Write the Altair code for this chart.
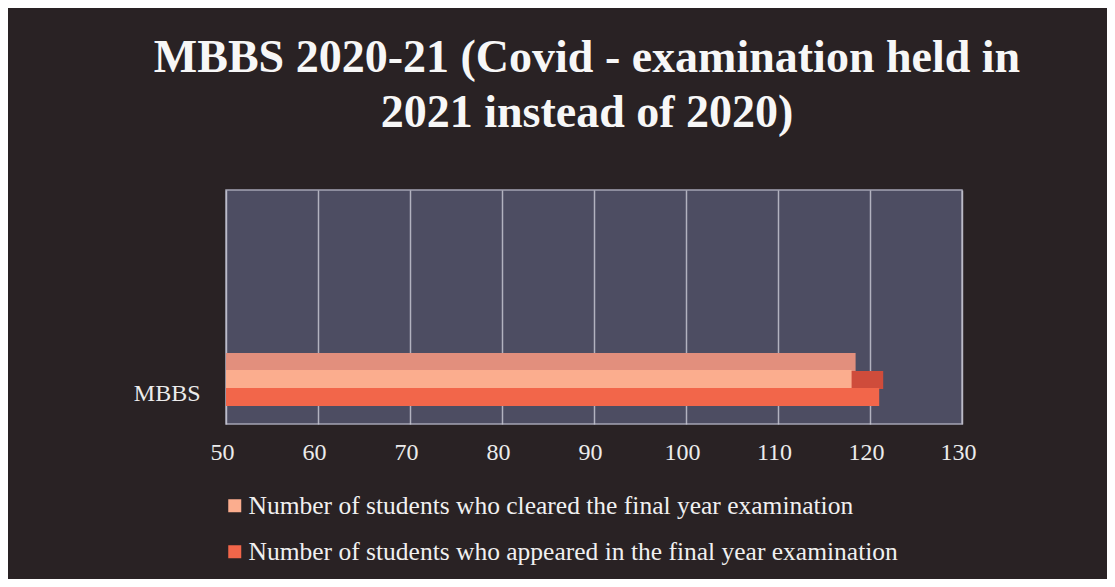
import altair as alt
import pandas as pd

categories = ["MBBS"]
series = [
    "Number of students who cleared the final year examination",
    "Number of students who  appeared in the final year examination",
]
values = [118, 121]
front_colors = ["#fbad8e", "#f2664a"]
top_colors = ["#e28f7d", "#cf4c3b"]
x_ticks = [50, 60, 70, 80, 90, 100, 110, 120, 130]
x_min, x_max = 50, 130

df = pd.DataFrame({
    "category": [categories[0]] * len(series),
    "series": series,
    "value": values,
})

FONT = "Liberation Serif"

x_enc = alt.X(
    "value:Q",
    scale=alt.Scale(domain=[x_min, x_max], zero=False, nice=False),
    axis=alt.Axis(
        values=x_ticks, title=None, domain=False, ticks=False,
        labelFont=FONT, labelFontSize=24, labelColor="#ececec",
        labelPadding=16, labelFlush=False, labelOffset=-4, grid=True,
        gridColor="#c4c4d0", gridWidth=1.5, gridOpacity=0.85,
    ),
)
y_enc = alt.Y(
    "category:N",
    scale=alt.Scale(paddingInner=0.636, paddingOuter=1, align=0.909),
    axis=alt.Axis(
        title=None, domain=False, ticks=False, labelFont=FONT,
        labelFontSize=24, labelColor="#ececec", labelPadding=26,
        labelOffset=6,
    ),
)

top_faces = alt.Chart(df).mark_bar(xOffset=4).encode(
    x=x_enc,
    x2=alt.datum(x_min),
    y=y_enc,
    yOffset=alt.YOffset("series:N", sort=series,
                        scale=alt.Scale(domain=series, range=[-17, 19],
                                        paddingInner=0, paddingOuter=0)),
    color=alt.Color("series:N", sort=series,
                    scale=alt.Scale(domain=series, range=top_colors), legend=None),
)

front_faces = alt.Chart(df).mark_bar().encode(
    x=x_enc,
    x2=alt.datum(x_min),
    y=y_enc,
    yOffset=alt.YOffset("series:N", sort=series,
                        scale=alt.Scale(domain=series, paddingInner=0, paddingOuter=0)),
    color=alt.Color(
        "series:N", sort=series,
        scale=alt.Scale(domain=series, range=front_colors),
        legend=alt.Legend(
            title=None, orient="none", legendX=-4, legendY=303, direction="vertical",
            symbolType="square", symbolSize=169, symbolStrokeWidth=0,
            labelFont=FONT, labelFontSize=25.5, labelColor="#f0f0f0",
            labelOffset=1, rowPadding=19, padding=0, labelLimit=900,
        ),
    ),
)

chart = alt.layer(top_faces, front_faces).resolve_scale(
    color="independent", yOffset="independent"
).properties(
    width=736,
    height=234,
    autosize=alt.AutoSizeParams(type="none"),
    padding={"left": 218, "top": 182, "right": 145, "bottom": 155},
    background="#292224",
    title=alt.Title(
        ["MBBS 2020-21 (Covid - examination held in", "2021 instead of 2020)"],
        font=FONT, fontSize=46, fontWeight="bold", color="#f7f7f7",
        lineHeight=55, anchor="middle", offset=53, dx=-7,
    ),
).configure_view(
    fill="#4d4d62", stroke="#a4a4b4", strokeWidth=1.5,
)

chart.save("out.html", embed_options={"renderer": "svg", "actions": False})
